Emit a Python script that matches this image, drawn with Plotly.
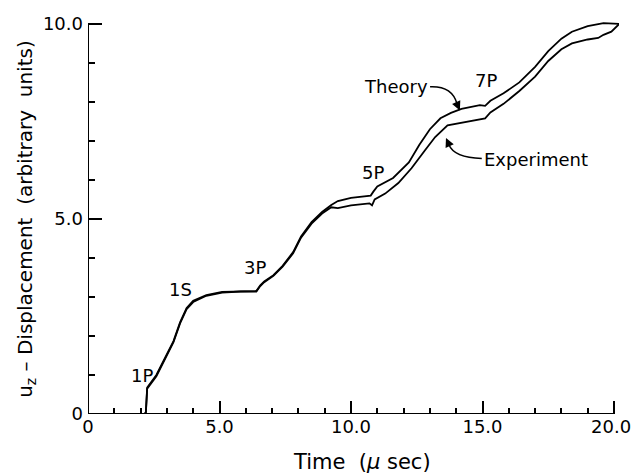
import plotly.graph_objects as go

# ---- data ----
theory_t = [0, 1.0, 2.15, 2.2, 2.25, 2.6, 2.9, 3.25, 3.5, 3.75, 4.0, 4.5, 5.1, 5.8, 6.4, 6.55, 6.7,
            7.05, 7.4, 7.8, 8.1, 8.5, 8.9, 9.25, 9.5, 10.0, 10.75, 10.85, 11.0, 11.6, 12.2, 12.6,
            13.0, 13.4, 13.8, 14.2, 14.9, 15.1, 15.3, 15.8, 16.4, 17.0, 17.5, 18.0, 18.4, 19.0,
            19.6, 20.2]
theory_u = [0, 0, 0, 0.05, 0.68, 1.0, 1.4, 1.87, 2.35, 2.72, 2.9, 3.05, 3.13, 3.15, 3.15, 3.3, 3.4,
            3.56, 3.8, 4.15, 4.55, 4.92, 5.18, 5.36, 5.46, 5.54, 5.6, 5.7, 5.83, 6.05, 6.45, 6.9,
            7.3, 7.58, 7.72, 7.82, 7.92, 7.9, 8.03, 8.22, 8.5, 8.9, 9.3, 9.62, 9.8, 9.94,
            10.02, 10.0]

exper_t = [0, 1.0, 2.15, 2.2, 2.25, 2.6, 2.9, 3.25, 3.5, 3.75, 4.0, 4.5, 5.1, 5.8, 6.4, 6.55, 6.7,
           7.05, 7.4, 7.8, 8.1, 8.5, 8.9, 9.25, 9.5, 10.0, 10.7, 10.8, 10.9, 11.3, 11.8, 12.3,
           12.8, 13.2, 13.67, 14.3, 15.1, 15.3, 15.8, 16.4, 17.0, 17.5, 18.0, 18.4, 19.0, 19.4,
           19.6, 19.9, 20.2]
exper_u = [0, 0, 0, 0.03, 0.65, 0.97, 1.37, 1.84, 2.32, 2.69, 2.87, 3.03, 3.11, 3.14, 3.14, 3.28, 3.38,
           3.54, 3.78, 4.12, 4.52, 4.88, 5.14, 5.3, 5.28, 5.35, 5.4, 5.35, 5.5, 5.65, 5.92, 6.3,
           6.75, 7.1, 7.4, 7.48, 7.58, 7.73, 7.95, 8.28, 8.65, 9.05, 9.35, 9.5, 9.6, 9.64,
           9.72, 9.8, 10.0]

x_tickvals = [0, 5, 10, 15, 20]
x_ticktext = ["0", "5.0", "10.0", "15.0", "20.0&nbsp;"]
y_tickvals = [0, 5, 10]
y_ticktext = ["0", "5.0", "10.0"]

# labels of arrivals
peak_labels = ["1P", "1S", "3P", "5P", "7P"]
peak_t = [2.05, 3.5, 6.35, 10.85, 15.15]
peak_u = [0.98, 3.18, 3.75, 6.2, 8.55]

FONT = "DejaVu Sans"
OFF = 8                      # default page (body) margin of the html page
PW, PH = 642, 476            # page size
W, H = PW - OFF, PH - OFF    # figure size
# plot area in page pixels
P_LEFT, P_RIGHT, P_TOP, P_BOT = 88, 622, 13, 414
ML = P_LEFT - OFF
MR = W - (P_RIGHT - OFF)
MT = P_TOP - OFF
MB = H - (P_BOT - OFF)
XR = [0, 20.19]
YR = [0, 10.1]


def px2t(px):
    return (px - P_LEFT) / (P_RIGHT - P_LEFT) * (XR[1] - XR[0]) + XR[0]


def py2u(py):
    return (P_BOT - py) / (P_BOT - P_TOP) * (YR[1] - YR[0]) + YR[0]


def px2paper(px):
    return (px - P_LEFT) / (P_RIGHT - P_LEFT)


def py2paper(py):
    return (P_BOT - py) / (P_BOT - P_TOP)


fig = go.Figure()
fig.add_trace(go.Scatter(x=theory_t, y=theory_u, mode="lines", name="Theory",
                         line=dict(color="black", width=1.8), showlegend=False))
fig.add_trace(go.Scatter(x=exper_t, y=exper_u, mode="lines", name="Experiment",
                         line=dict(color="black", width=1.8), showlegend=False))

annotations = []
for txt, t, u in zip(peak_labels, peak_t, peak_u):
    annotations.append(dict(x=t, y=u, xref="x", yref="y", text=txt, showarrow=False,
                            xanchor="center", yanchor="middle",
                            font=dict(family=FONT, size=18, color="black")))

annotations.append(dict(x=px2t(398), y=py2u(81), xref="x", yref="y", text="Theory",
                        showarrow=False, xanchor="center", yanchor="middle",
                        font=dict(family=FONT, size=18, color="black")))
annotations.append(dict(x=px2t(539), y=py2u(155), xref="x", yref="y", text="Experiment",
                        showarrow=False, xanchor="center", yanchor="middle",
                        font=dict(family=FONT, size=18, color="black")))
# arrowheads
annotations.append(dict(x=px2t(462), y=py2u(105), ax=px2t(458), ay=py2u(96),
                        xref="x", yref="y", axref="x", ayref="y", text="", showarrow=True,
                        arrowhead=2, arrowsize=1.2, arrowwidth=1.5, arrowcolor="black"))
annotations.append(dict(x=px2t(448), y=py2u(133), ax=px2t(452), ay=py2u(142),
                        xref="x", yref="y", axref="x", ayref="y", text="", showarrow=True,
                        arrowhead=2, arrowsize=1.2, arrowwidth=1.5, arrowcolor="black"))

# axis titles
annotations.append(dict(x=px2paper(364), y=py2paper(463), xref="paper", yref="paper",
                        xanchor="center", yanchor="middle",
                        text="Time  (<i>μ</i> sec)", showarrow=False,
                        font=dict(family=FONT, size=21, color="black")))
annotations.append(dict(x=px2paper(26), y=py2paper(215), xref="paper", yref="paper",
                        xanchor="center", yanchor="middle", textangle=-90,
                        text="u<sub>z</sub> – Displacement  (arbitrary  units)", showarrow=False,
                        font=dict(family=FONT, size=20, color="black")))

shapes = [
    dict(type="line", xref="x", yref="y", x0=0, y0=0, x1=20, y1=0,
         line=dict(color="black", width=2)),
    dict(type="line", xref="x", yref="y", x0=0, y0=0, x1=0, y1=10,
         line=dict(color="black", width=2)),
    dict(type="path", xref="x", yref="y",
         path=f"M {px2t(432)},{py2u(81)} Q {px2t(454)},{py2u(80)} {px2t(459)},{py2u(98)}",
         line=dict(color="black", width=1.5)),
    dict(type="path", xref="x", yref="y",
         path=f"M {px2t(484)},{py2u(154)} Q {px2t(456)},{py2u(153)} {px2t(451)},{py2u(140)}",
         line=dict(color="black", width=1.5)),
]

fig.update_layout(
    width=W, height=H,
    margin=dict(l=ML, r=MR, t=MT, b=MB, pad=0),
    paper_bgcolor="white", plot_bgcolor="white",
    annotations=annotations, shapes=shapes,
    font=dict(family=FONT, size=18, color="black"),
)
fig.update_xaxes(range=XR, showgrid=False, zeroline=False, showline=False,
                 ticks="inside", tickvals=x_tickvals, ticktext=x_ticktext,
                 ticklen=13, tickwidth=1.8, tickcolor="black", ticklabelstandoff=0,
                 ticklabeloverflow="allow",
                 tickfont=dict(family=FONT, size=18, color="black"),
                 minor=dict(ticks="inside", dtick=1, ticklen=6, tickwidth=1.5, tickcolor="black"))
fig.update_yaxes(range=YR, showgrid=False, zeroline=False, showline=False,
                 ticks="inside", tickvals=y_tickvals, ticktext=y_ticktext,
                 ticklen=14, tickwidth=1.8, tickcolor="black", ticklabelstandoff=4,
                 ticklabeloverflow="allow",
                 tickfont=dict(family=FONT, size=18, color="black"),
                 minor=dict(ticks="inside", dtick=1, ticklen=7, tickwidth=1.5, tickcolor="black"))

fig.write_html("out.html", config={"displayModeBar": False, "responsive": False},
               post_script="document.documentElement.style.overflow='hidden';"
                           "document.body.style.overflow='hidden';")
